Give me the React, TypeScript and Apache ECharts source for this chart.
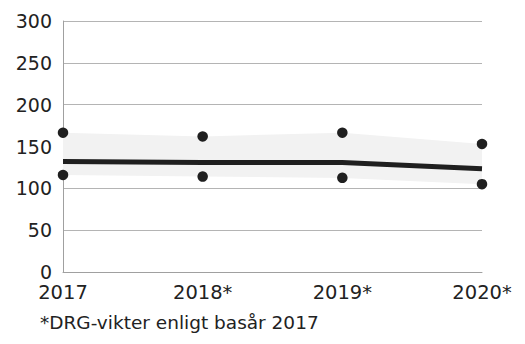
import React, { useEffect, useRef } from "react";
import * as echarts from "echarts";

const categories = ["2017", "2018*", "2019*", "2020*"];
const mainValues = [132, 131, 131, 123.5];
const upperValues = [166.5, 162, 166.5, 153];
const lowerValues = [116, 114, 112.5, 105];
const yTicks = [0, 50, 100, 150, 200, 250, 300];
const footnote = "*DRG-vikter enligt basår 2017";

const FONT = "DejaVu Sans";
const TEXT = "#222222";
const DARK = "#1f1f1f";

export default function App() {
  const ref = useRef<HTMLDivElement>(null);
  useEffect(() => {
    if (!ref.current) return;
    const chart = echarts.init(ref.current, null, { renderer: "svg" });
    const bandDiff = upperValues.map((u, i) => u - lowerValues[i]);
    chart.setOption({
      animation: false,
      textStyle: { fontFamily: FONT },
      grid: { left: 63, right: 43, top: 21, bottom: 72 },
      xAxis: {
        type: "category",
        data: categories,
        boundaryGap: false,
        axisLine: { show: true, lineStyle: { color: "#a0a0a0", width: 1 } },
        axisTick: { show: false },
        axisLabel: {
          color: TEXT,
          fontSize: 19.5,
          lineHeight: 19,
          fontFamily: FONT,
          margin: 11,
        },
        splitLine: { show: false },
      },
      yAxis: {
        type: "value",
        min: yTicks[0],
        max: yTicks[yTicks.length - 1],
        interval: 50,
        axisLine: { show: true, lineStyle: { color: "#a0a0a0", width: 1 } },
        axisTick: { show: false },
        axisLabel: {
          color: TEXT,
          fontSize: 19,
          lineHeight: 18,
          fontFamily: FONT,
          margin: 11,
        },
        splitLine: { show: true, lineStyle: { color: "#b4b4b4", width: 1 } },
      },
      series: [
        {
          type: "line",
          data: lowerValues,
          stack: "band",
          symbol: "none",
          lineStyle: { opacity: 0 },
          silent: true,
        },
        {
          type: "line",
          data: bandDiff,
          stack: "band",
          symbol: "none",
          lineStyle: { opacity: 0 },
          areaStyle: { color: "#f2f2f2", opacity: 1 },
          silent: true,
        },
        {
          type: "line",
          data: mainValues,
          symbol: "none",
          lineStyle: { color: DARK, width: 5 },
          z: 5,
        },
        {
          type: "scatter",
          data: upperValues,
          symbolSize: 10.5,
          itemStyle: { color: DARK, opacity: 1 },
          z: 6,
        },
        {
          type: "scatter",
          data: lowerValues,
          symbolSize: 10.5,
          itemStyle: { color: DARK, opacity: 1 },
          z: 6,
        },
      ],
      graphic: [
        {
          type: "text",
          left: 40,
          top: 313,
          style: { text: footnote, fontSize: 18.5, fontFamily: FONT, fill: TEXT },
        },
      ],
    });
    return () => chart.dispose();
  }, []);
  return (
    <div
      ref={ref}
      style={{ position: "absolute", left: 0, top: 0, width: 525, height: 344 }}
    />
  );
}
